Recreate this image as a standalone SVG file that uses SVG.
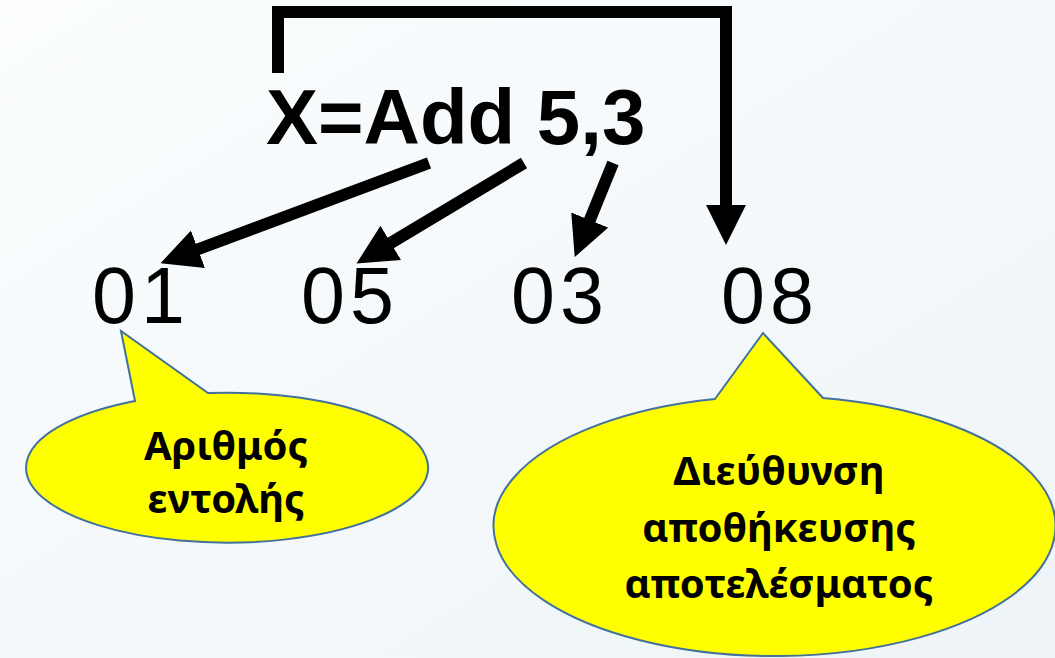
<svg xmlns="http://www.w3.org/2000/svg" width="1055" height="658" viewBox="0 0 1055 658">
<defs>
<linearGradient id="bg" x1="0" y1="0" x2="1" y2="1">
<stop offset="0" stop-color="#FBFDFE"/>
<stop offset="1" stop-color="#EEF4F7"/>
</linearGradient>
<marker id="head" markerUnits="userSpaceOnUse" markerWidth="40" markerHeight="40" viewBox="0 0 38 38" refX="2" refY="19" orient="auto">
<path d="M0,0 L38,19 L0,38 Z" fill="#000"/>
</marker>
</defs>
<style>
.conn{fill:none;stroke:#000;stroke-width:12;stroke-linejoin:miter;marker-end:url(#head)}
.code{font-family:"Liberation Sans",Arial,sans-serif;font-weight:bold;font-size:78px;fill:#000}
.num{font-family:"Liberation Sans",Arial,sans-serif;font-size:79px;letter-spacing:5px;fill:#000}
.bubble{fill:#FFFF00;stroke:#41719C;stroke-width:2}
.lbl{font-family:"Noto Sans","Open Sans",sans-serif;font-weight:bold;font-size:40px;fill:#000;text-anchor:middle}
</style>
<rect width="1055" height="658" fill="url(#bg)"/>
<g id="instruction">
<text class="code" x="266" y="144">X=Add 5,3</text>
</g>
<g id="n01"><text class="num" x="92" y="323">01</text></g>
<g id="n05"><text class="num" x="301" y="323">05</text></g>
<g id="n03"><text class="num" x="511" y="323">03</text></g>
<g id="n08"><text class="num" x="721" y="323">08</text></g>
<g id="connectors">
<line class="conn" x1="429" y1="163" x2="196" y2="250"/>
<line class="conn" x1="524" y1="163" x2="389" y2="244"/>
<line class="conn" x1="613" y1="163" x2="589" y2="222"/>
<path class="conn" d="M278,73 V12 H726 V207"/>
</g>
<g id="callout-left">
<path class="bubble" d="M135,401 L121,331 L208,393 A201,75 0 1 1 135,401 Z"/>
<text class="lbl" x="226" y="460">Αριθμός</text>
<text class="lbl" x="226" y="513">εντολής</text>
</g>
<g id="callout-right">
<path class="bubble" d="M715,399 L763,333 L823,398 A281,130 0 1 1 715,399 Z"/>
<text class="lbl" x="779" y="485">Διεύθυνση</text>
<text class="lbl" x="779" y="542">αποθήκευσης</text>
<text class="lbl" x="779" y="598">αποτελέσματος</text>
</g>
</svg>
